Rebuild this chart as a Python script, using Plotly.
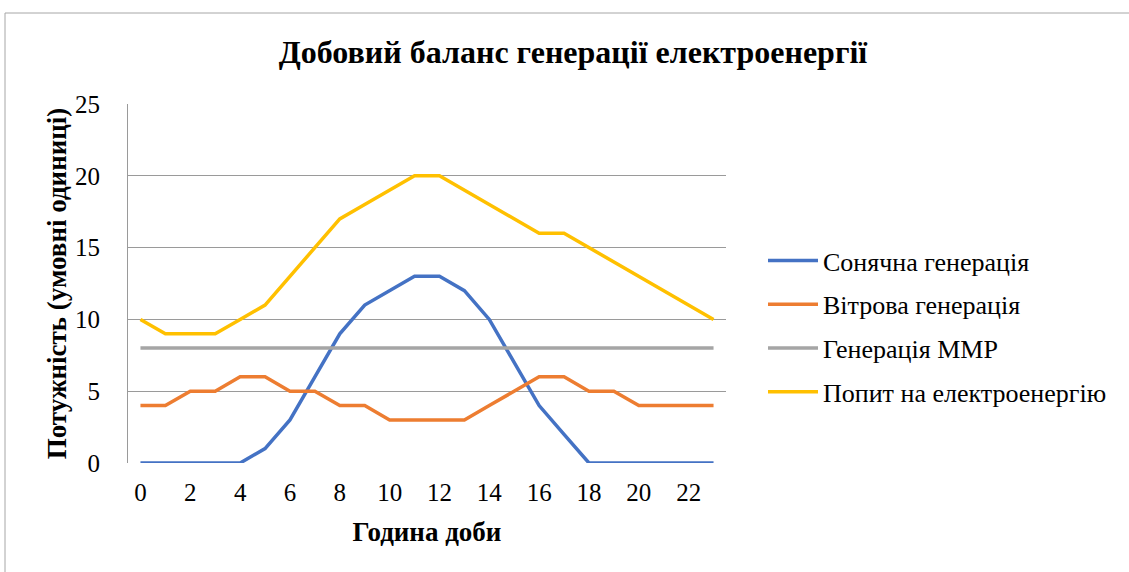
import plotly.graph_objects as go

hours = list(range(24))
solar = [0, 0, 0, 0, 0, 1, 3, 6, 9, 11, 12, 13, 13, 12, 10, 7, 4, 2, 0, 0, 0, 0, 0, 0]
wind = [4, 4, 5, 5, 6, 6, 5, 5, 4, 4, 3, 3, 3, 3, 4, 5, 6, 6, 5, 5, 4, 4, 4, 4]
smr = [8] * 24
demand = [10, 9, 9, 9, 10, 11, 13, 15, 17, 18, 19, 20, 20, 19, 18, 17, 16, 16, 15, 14, 13, 12, 11, 10]

names = ["Сонячна генерація", "Вітрова генерація", "Генерація ММР", "Попит на електроенергію"]
colors = ["#4472C4", "#ED7D31", "#A5A5A5", "#FFC000"]
series = [solar, wind, smr, demand]

FONT = "Liberation Serif"
W, H = 1129, 572
L, R, T, B = 128, 726, 104, 463

fig = go.Figure()
for i, (n, c, s) in enumerate(zip(names, colors, series)):
    fig.add_trace(go.Scatter(x=hours, y=s, mode="lines", name=n, legendgroup=str(i),
                             line=dict(color=c, width=3.5)))

def px(x):
    return (x - L) / (R - L)

def py(y):
    return (B - y) / (B - T)

fig.update_layout(
    width=W, height=H,
    margin=dict(l=L, r=W - R, t=T, b=H - B),
    paper_bgcolor="white", plot_bgcolor="white",
    font=dict(family=FONT, color="black", size=25),
    title=dict(text="<b>Добовий баланс генерації електроенергії</b>", x=573 / W, xanchor="center",
               y=1 - 52 / H, yanchor="middle", font=dict(size=32, family=FONT)),
    legend=dict(x=px(763), xanchor="left", y=py(326.5), yanchor="middle",
                font=dict(size=26, family=FONT), tracegroupgap=7, itemwidth=50,
                bgcolor="rgba(0,0,0,0)"),
    xaxis=dict(range=[-0.5, 23.5], tickmode="array", tickvals=list(range(0, 24, 2)),
               showgrid=False, zeroline=False, showline=False, ticks="",
               ticklabelstandoff=12, tickfont=dict(size=25),
               title=dict(text="<b>Година доби</b>", font=dict(size=27, family=FONT), standoff=17)),
    yaxis=dict(range=[0, 25], dtick=5, showgrid=True, gridcolor="#9A9A9A", gridwidth=1,
               zeroline=False, showline=True, linecolor="#9A9A9A", linewidth=1, ticks="",
               ticklabelstandoff=22, tickfont=dict(size=25),
               title=dict(text="<b>Потужність (умовні одиниці)</b>", font=dict(size=27, family=FONT), standoff=0)),
    shapes=[dict(type="rect", xref="paper", yref="paper", x0=px(5), x1=px(1135), y0=py(13), y1=py(580),
                 line=dict(color="#A6A6A6", width=1), layer="below")],
)

fig.write_html("out.html", config={"displayModeBar": False},
               post_script="document.body.style.margin='0';")
